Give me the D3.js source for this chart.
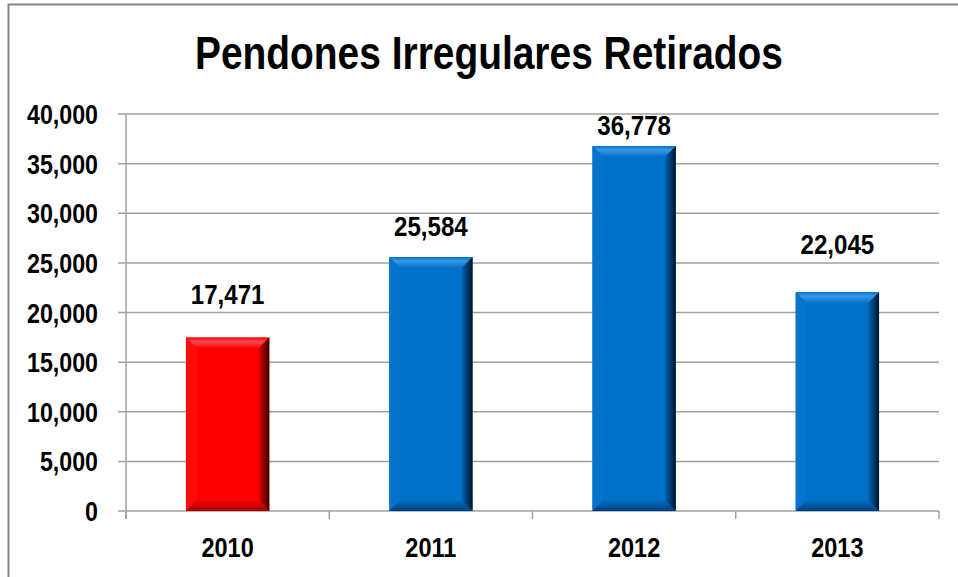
<!DOCTYPE html>
<html>
<head>
<meta charset="utf-8">
<script src="https://cdn.jsdelivr.net/npm/d3@7"></script>
<style>
  body { margin: 0; background: #fff; }
  svg { display: block; }
  text { font-family: "Liberation Sans Narrow", "Arial Narrow", "Liberation Sans", sans-serif; font-weight: bold; }
</style>
</head>
<body>
<svg id="chart" width="958" height="577"></svg>
<script>
// chart data
const years = ["2010", "2011", "2012", "2013"];
const values = [17471, 25584, 36778, 22045];
const yTicks = [0, 5000, 10000, 15000, 20000, 25000, 30000, 35000, 40000];
const title = "Pendones Irregulares Retirados";

// gap (px) between each value label baseline and its bar top, as placed in the original
const labelGap = [34, 21, 11, 38];

const svg = d3.select("#chart");
const plotLeft = 126, plotRight = 939, plotTop = 114, plotBottom = 511;

// squeeze text horizontally to mimic a narrow face
function narrow(sel, k) {
    sel.each(function() {
        const len = this.getComputedTextLength();
        d3.select(this)
            .attr("textLength", len * k)
            .attr("lengthAdjust", "spacingAndGlyphs");
    });
}

// outer frame
svg.append("rect")
    .attr("x", 8.5).attr("y", 4.5)
    .attr("width", 1000).attr("height", 1000)
    .attr("fill", "none")
    .attr("stroke", "#848484")
    .attr("stroke-width", 2);

// title
svg.append("text")
    .attr("x", 489)
    .attr("y", 69)
    .attr("text-anchor", "middle")
    .style("font-family", "'Liberation Sans', Arial, sans-serif")
    .style("font-size", "46px")
    .attr("textLength", 588)
    .attr("lengthAdjust", "spacingAndGlyphs")
    .text(title);

const x = d3.scaleBand().domain(years).range([plotLeft, plotRight]).paddingInner(0.59).paddingOuter(0.295);
const y = d3.scaleLinear().domain([0, 40000]).range([plotBottom, plotTop]);

// gridlines
svg.append("g")
    .selectAll("line")
    .data(yTicks)
    .enter()
    .append("line")
        .attr("x1", plotLeft - 8)
        .attr("x2", plotRight)
        .attr("y1", d => y(d))
        .attr("y2", d => y(d))
        .attr("stroke", "#a0a0a0")
        .attr("stroke-width", 1.5);

// y axis line
svg.append("line")
    .attr("x1", plotLeft).attr("x2", plotLeft)
    .attr("y1", plotTop).attr("y2", plotBottom + 8)
    .attr("stroke", "#a0a0a0").attr("stroke-width", 1.5);

// x ticks at category boundaries
const step = (plotRight - plotLeft) / years.length;
svg.append("g")
    .selectAll("line")
    .data(d3.range(years.length + 1))
    .enter()
    .append("line")
        .attr("x1", i => plotLeft + i * step)
        .attr("x2", i => plotLeft + i * step)
        .attr("y1", plotBottom)
        .attr("y2", plotBottom + 8)
        .attr("stroke", "#a0a0a0").attr("stroke-width", 1.5);

// y labels
const fmt = d3.format(",");
svg.append("g")
    .selectAll("text")
    .data(yTicks)
    .enter()
    .append("text")
        .attr("x", 98)
        .attr("y", d => y(d) + 10)
        .attr("text-anchor", "end")
        .style("font-size", "27px")
        .text(d => fmt(d))
        .call(narrow, 0.86);

// x labels
svg.append("g")
    .selectAll("text")
    .data(years)
    .enter()
    .append("text")
        .attr("x", d => x(d) + x.bandwidth() / 2)
        .attr("y", 557)
        .attr("text-anchor", "middle")
        .style("font-size", "28px")
        .text(d => d)
        .call(narrow, 0.84);

// gradients for bevel sides
const defs = svg.append("defs");
const palettes = {
    red:  { face: "#ff0000", top: "#ff4a4a", leftc: "#ff0a0a", bot: "#d80000", botEdge: "#a00000", dark: "#300000", mid: "#ee0000" },
    blue: { face: "#0070c8", top: "#3a9ae6", leftc: "#0774cb", bot: "#005aa8", botEdge: "#003f7a", dark: "#001428", mid: "#0066b8" }
};
Object.keys(palettes).forEach(k => {
    const p = palettes[k];
    const g = defs.append("linearGradient").attr("id", "side-" + k)
        .attr("x1", 0).attr("x2", 1).attr("y1", 0).attr("y2", 0);
    g.append("stop").attr("offset", "0%").attr("stop-color", p.mid);
    g.append("stop").attr("offset", "100%").attr("stop-color", p.dark);
    const t = defs.append("linearGradient").attr("id", "top-" + k)
        .attr("x1", 0).attr("x2", 0).attr("y1", 0).attr("y2", 1);
    t.append("stop").attr("offset", "0%").attr("stop-color", p.face);
    t.append("stop").attr("offset", "35%").attr("stop-color", p.top);
    t.append("stop").attr("offset", "100%").attr("stop-color", p.face);
    const b = defs.append("linearGradient").attr("id", "bot-" + k)
        .attr("x1", 0).attr("x2", 0).attr("y1", 0).attr("y2", 1);
    b.append("stop").attr("offset", "0%").attr("stop-color", p.face);
    b.append("stop").attr("offset", "100%").attr("stop-color", p.botEdge);
});

// bars with bevel
const bev = 11;
const bars = svg.append("g")
    .selectAll("g")
    .data(years.map((d, i) => ({ year: d, value: values[i], gap: labelGap[i], pal: i === 0 ? "red" : "blue" })))
    .enter()
    .append("g");

bars.each(function(d) {
    const g = d3.select(this);
    const p = palettes[d.pal];
    const x0 = x(d.year), x1 = x(d.year) + x.bandwidth();
    const y0 = y(d.value), y1 = y(0);
    g.append("rect")
        .attr("x", x0).attr("y", y0)
        .attr("width", x1 - x0).attr("height", y1 - y0)
        .attr("fill", p.face);
    // top
    g.append("path")
        .attr("d", `M${x0},${y0}L${x1},${y0}L${x1 - bev},${y0 + bev}L${x0 + bev},${y0 + bev}Z`)
        .attr("fill", `url(#top-${d.pal})`);
    // left
    g.append("path")
        .attr("d", `M${x0},${y0}L${x0 + bev},${y0 + bev}L${x0 + bev},${y1 - bev}L${x0},${y1}Z`)
        .attr("fill", p.leftc);
    // bottom
    g.append("path")
        .attr("d", `M${x0},${y1}L${x0 + bev},${y1 - bev}L${x1 - bev},${y1 - bev}L${x1},${y1}Z`)
        .attr("fill", `url(#bot-${d.pal})`);
    // right
    g.append("path")
        .attr("d", `M${x1},${y0}L${x1},${y1}L${x1 - bev},${y1 - bev}L${x1 - bev},${y0 + bev}Z`)
        .attr("fill", `url(#side-${d.pal})`);
    // value label
    g.append("text")
        .attr("x", (x0 + x1) / 2)
        .attr("y", y0 - d.gap)
        .attr("text-anchor", "middle")
        .style("font-size", "28px")
        .text(fmt(d.value))
        .call(narrow, 0.86);
});
</script>
</body>
</html>
